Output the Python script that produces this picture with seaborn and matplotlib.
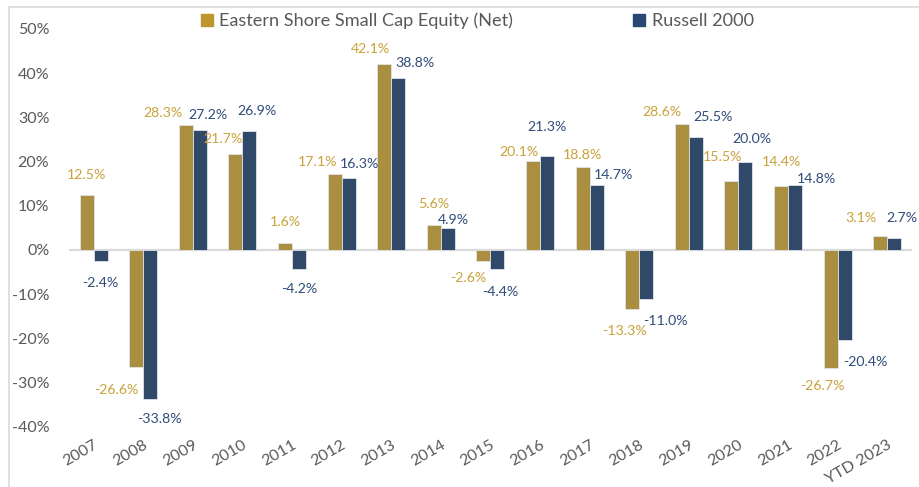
import pandas as pd
import numpy as np
import matplotlib.pyplot as plt
import seaborn as sns
from matplotlib.patches import Rectangle

# Data
years = ["2007", "2008", "2009", "2010", "2011", "2012", "2013", "2014", "2015",
         "2016", "2017", "2018", "2019", "2020", "2021", "2022", "YTD 2023"]
fund_returns = [12.5, -26.6, 28.3, 21.7, 1.6, 17.1, 42.1, 5.6, -2.6,
                20.1, 18.8, -13.3, 28.6, 15.5, 14.4, -26.7, 3.1]
index_returns = [-2.4, -33.8, 27.2, 26.9, -4.2, 16.3, 38.8, 4.9, -4.4,
                 21.3, 14.7, -11.0, 25.5, 20.0, 14.8, -20.4, 2.7]
series_names = ["Eastern Shore Small Cap Equity (Net)", "Russell 2000"]

# hand-placed label nudges (pixels): sideways shift, distance from bar end
fund_dx = [0, -20, -23, -12, 0, -17, -14, 0, -15, -14, 0, -8, -20, -9, 0, -8, -19]
fund_dist = [20, 23, 12, 15, 21, 12, 15, 21, 17, 9, 12, 22, 12, 24, 24, 18, 18]
index_dx = [0, 9, 8, 8, 0, 11, 17, 6, 3, 0, 17, 19, 17, 7, 21, 21, 8]
index_dist = [22, 20, 15, 20, 20, 14, 15, 8, 23, 29, 10, 22, 20, 23, 6, 22, 20]

GOLD = "#BD972E"
NAVY = "#284872"
GOLD_TXT = "#C9A23A"
NAVY_TXT = "#2F4C7A"
GREY = "#595959"


def main():
    df = pd.DataFrame({
        "Year": years * 2,
        "Return": fund_returns + index_returns,
        "Series": [series_names[0]] * len(years) + [series_names[1]] * len(years),
    })

    sns.set_theme(style="white")
    plt.rcParams["font.family"] = ["Lato", "DejaVu Sans"]

    fig = plt.figure(figsize=(9.2, 4.87), dpi=100)
    ax = fig.add_axes([0.0747, 0.1238, 0.9166, 0.8167])

    sns.barplot(data=df, x="Year", y="Return", hue="Series",
                palette=[GOLD, NAVY], width=0.565, ax=ax,
                edgecolor="#dfe3ea", linewidth=0.6, legend=False)

    ax.set_ylim(-40, 50)
    ax.set_xlim(-0.5, len(years) - 0.5)
    ax.set_yticks(np.arange(-40, 51, 10))
    ax.set_yticklabels([f"{v}%" for v in range(-40, 51, 10)],
                       fontsize=11.5, color=GREY)
    ax.tick_params(axis="y", length=0, pad=14)
    ax.tick_params(axis="x", length=0, pad=8)
    plt.setp(ax.get_xticklabels(), rotation=30, ha="right",
             rotation_mode="anchor", fontsize=11.5, color=GREY)
    ax.set_xlabel("")
    ax.set_ylabel("")
    sns.despine(ax=ax, left=True, bottom=True)
    ax.axhline(0, color="#d9d9d9", linewidth=1.6, zorder=0)

    # data labels
    for bars, vals, dxs, dists, col in [
        (ax.containers[0], fund_returns, fund_dx, fund_dist, GOLD_TXT),
        (ax.containers[1], index_returns, index_dx, index_dist, NAVY_TXT),
    ]:
        for bar, v, dx, d in zip(bars, vals, dxs, dists):
            xc = bar.get_x() + bar.get_width() / 2
            dy = d if v >= 0 else -d
            ax.annotate(f"{v:.1f}%", xy=(xc, v), xytext=(dx, dy),
                        textcoords="offset pixels", ha="center", va="center",
                        fontsize=10.2, color=col, annotation_clip=False)

    # legend
    handles = [Rectangle((0, 0), 1, 1, color=GOLD), Rectangle((0, 0), 1, 1, color=NAVY)]
    leg = fig.legend(handles, series_names, loc="center", ncol=2,
                     bbox_to_anchor=(0.519, 0.957), frameon=False,
                     fontsize=13.1, handlelength=0.65, handleheight=0.65,
                     handletextpad=0.35, columnspacing=6.6)
    for t in leg.get_texts():
        t.set_color(GREY)

    # light chart border (top and left edges visible)
    fig.patches.append(Rectangle((9 / 920, -0.1), 1.2, 1 - 7 / 487 + 0.1,
                                 transform=fig.transFigure, fill=False,
                                 edgecolor="#d9d9d9", linewidth=1.2))

    fig.savefig("out.png", dpi=100)


if __name__ == "__main__":
    main()
